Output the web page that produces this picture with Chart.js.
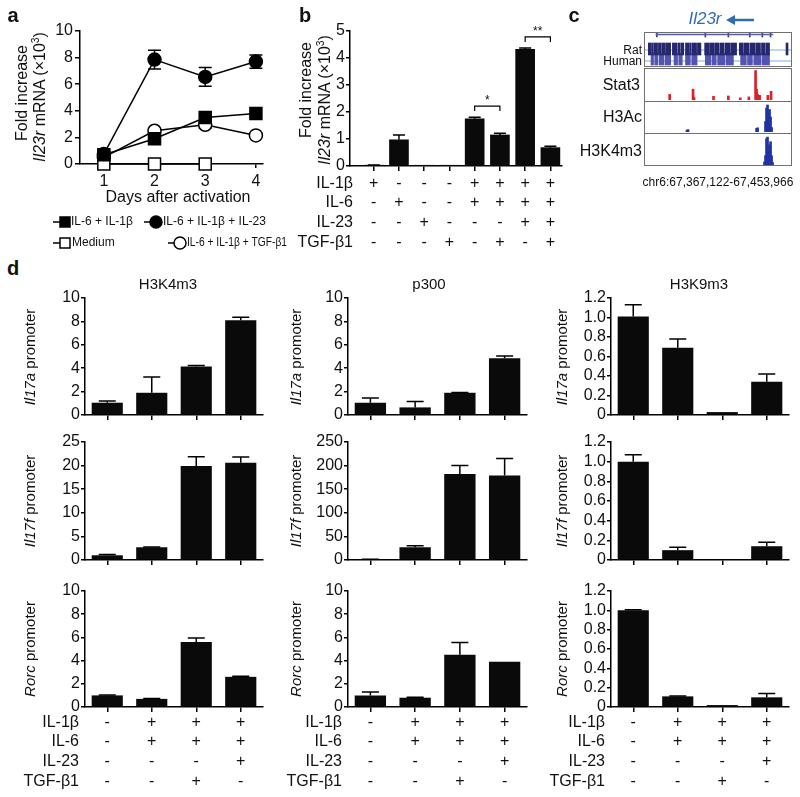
<!DOCTYPE html>
<html>
<head>
<meta charset="utf-8">
<title>Il23r figure</title>
<script src="https://cdn.jsdelivr.net/npm/chart.js@4.4.1/dist/chart.umd.min.js"></script>
<style>
  body { margin: 0; background: #fff; }
  #fig { position: relative; width: 800px; height: 797px; overflow: hidden; font-family: 'Liberation Sans', Arial, sans-serif; color: #111; }
  #fig canvas { position: absolute; }
  .t { position: absolute; white-space: nowrap; line-height: 1; }
  .box { position: absolute; border: 1px solid #707070; box-sizing: border-box; }
  sup { font-size: 0.65em; line-height: 0; vertical-align: 0.55em; }
</style>
</head>
<body>
<div id="fig"></div>
<script>
// ---------- data ----------
// panel a
var days = [1, 2, 3, 4];
var aIL6IL1b = [0.7, 1.9, 3.5, 3.8];
var aIL23 = [0.75, 7.85, 6.55, 7.7];
var aIL23Err = [0, 0.7, 0.7, 0.5];
var aMedium = [0, 0, 0, null];
var aTGFb = [0.5, 2.5, 2.95, 2.15];
var aTGFbErr = [0, 0.12, 0.25, 0];

// panel b
var bPos = [1, 2, 3, 4, 5, 6, 7, 8];
var bValues = [0.03, 0.97, 0.01, 0.01, 1.75, 1.15, 4.32, 0.68];
var bErrors = [0.01, 0.18, 0, 0, 0.06, 0.06, 0.05, 0.05];
var bSig = [[5, 6, 2.22, '*'], [7, 8, 4.78, '**']];

var condLabels = ['IL-1β', 'IL-6', 'IL-23', 'TGF-β1'];
var bConds = [
  ['+', '-', '-', '-', '+', '+', '+', '+'],
  ['-', '+', '-', '-', '+', '+', '+', '+'],
  ['-', '-', '+', '-', '-', '-', '+', '+'],
  ['-', '-', '-', '+', '-', '+', '-', '+']
];

// panel c (genome browser, chr6)
var chrStart = 67367122, chrEnd = 67453966;
var geneSpan = [67373590, 67443170];
var exonPos = [67374180, 67403000, 67416710, 67429450, 67436900, 67441800];
var ratBlocks = [[67369100, 67370600], [67371000, 67371900], [67372300, 67374600], [67375100, 67376800],
  [67377200, 67379300], [67379800, 67382400], [67383400, 67386000], [67386600, 67388100], [67388600, 67390200],
  [67391200, 67393100], [67393600, 67394500], [67395000, 67397800], [67398300, 67400400], [67402600, 67405000],
  [67405500, 67408000], [67408500, 67411000], [67411600, 67414200], [67414800, 67417900], [67418400, 67421600],
  [67423200, 67425600], [67426100, 67429000], [67429600, 67432500], [67433000, 67435800], [67436400, 67438600],
  [67439100, 67441200], [67451000, 67452200]];
var humanBlocks = [[67370700, 67372200], [67372900, 67374800], [67375600, 67378300], [67379000, 67382400],
  [67384400, 67386500], [67387200, 67389300], [67391200, 67394100], [67394900, 67398100], [67403000, 67406200],
  [67406900, 67409500], [67410300, 67414600], [67415300, 67419700], [67424000, 67427400], [67428100, 67431000],
  [67431800, 67436000], [67436700, 67441200]];
var stat3Pos = [67381800, 67395700, 67396300, 67407900, 67416700, 67423800, 67428900, 67432900, 67433500,
  67434100, 67434700, 67435300, 67440200, 67442100];
var stat3Val = [0.18, 0.35, 0.08, 0.12, 0.13, 0.07, 0.1, 0.95, 0.35, 0.18, 0.12, 0.15, 0.15, 0.28];
var h3acPos = [67392100, 67392700, 67433500, 67434100, 67438800, 67439400, 67440000, 67440600, 67441200,
  67441800, 67442400];
var h3acVal = [0.06, 0.08, 0.12, 0.14, 0.35, 0.8, 0.9, 0.6, 0.75, 0.5, 0.15];
var k4Pos = [67438200, 67438800, 67439400, 67440000, 67440600, 67441200, 67441800, 67442400, 67443000];
var k4Val = [0.1, 0.3, 0.85, 0.9, 0.45, 0.65, 0.75, 0.3, 0.08];

// panel d
var dGroups = ['Medium', 'IL-1β + IL-6', 'IL-1β + IL-6 + TGF-β1', 'IL-1β + IL-6 + IL-23'];
var dConds = [
  ['-', '+', '+', '+'],
  ['-', '+', '+', '+'],
  ['-', '-', '-', '+'],
  ['-', '-', '+', '-']
];
var k4Il17a = [1.05, 1.9, 4.15, 8.1],   k4Il17aErr = [0.15, 1.35, 0.08, 0.25];
var k4Il17f = [1.0, 2.7, 19.9, 20.6],   k4Il17fErr = [0.15, 0.05, 2.0, 1.2];
var k4Rorc = [1.0, 0.7, 5.6, 2.6],      k4RorcErr = [0.03, 0.03, 0.35, 0.05];
var p3Il17a = [1.05, 0.65, 1.9, 4.85],  p3Il17aErr = [0.4, 0.5, 0.03, 0.2];
var p3Il17f = [1.0, 27, 182, 179],      p3Il17fErr = [0.5, 3, 18, 36];
var p3Rorc = [1.0, 0.8, 4.5, 3.9],      p3RorcErr = [0.3, 0.05, 1.05, 0];
var k9Il17a = [1.01, 0.69, 0.03, 0.34], k9Il17aErr = [0.12, 0.09, 0, 0.08];
var k9Il17f = [1.0, 0.1, 0.005, 0.14],  k9Il17fErr = [0.07, 0.03, 0, 0.04];
var k9Rorc = [1.0, 0.11, 0.02, 0.1],    k9RorcErr = [0.005, 0.005, 0, 0.04];

// ---------- helpers ----------
var FONT = "'Liberation Sans', Arial, sans-serif";
Chart.defaults.font.family = FONT;
Chart.defaults.color = '#111';
var fig = document.getElementById('fig');

function addCanvas(x, y, w, h) {
  var c = document.createElement('canvas');
  c.width = w; c.height = h;
  c.style.left = x + 'px'; c.style.top = y + 'px';
  c.style.width = w + 'px'; c.style.height = h + 'px';
  fig.appendChild(c);
  return c;
}

function txt(html, x, y, o) {
  o = o || {};
  var d = document.createElement('div');
  d.className = 't';
  d.innerHTML = html;
  d.style.left = x + 'px';
  d.style.top = y + 'px';
  d.style.fontSize = (o.size || 16) + 'px';
  if (o.bold) d.style.fontWeight = 'bold';
  if (o.color) d.style.color = o.color;
  var tx = o.align === 'r' ? '-100%' : (o.align === 'l' ? '0' : '-50%');
  d.style.transform = 'translate(' + tx + ',-50%)' + (o.rot ? ' rotate(-90deg)' : '');
  fig.appendChild(d);
}

function val(d) { return (d !== null && typeof d === 'object') ? d.y : d; }

function errorBars(hook, both, capW) {
  var p = { id: 'errorBars' };
  p[hook] = function (chart) {
    var ctx = chart.ctx, ys = chart.scales.y;
    chart.data.datasets.forEach(function (ds, di) {
      if (!ds.errors) return;
      var meta = chart.getDatasetMeta(di);
      ctx.save();
      ctx.strokeStyle = '#000';
      ctx.lineWidth = 1.5;
      meta.data.forEach(function (el, i) {
        var e = ds.errors[i];
        if (!e) return;
        var v = val(ds.data[i]);
        var yt = ys.getPixelForValue(v + e);
        var yb = both ? ys.getPixelForValue(v - e) : ys.getPixelForValue(v);
        ctx.beginPath();
        ctx.moveTo(el.x, yb); ctx.lineTo(el.x, yt);
        ctx.moveTo(el.x - capW / 2, yt); ctx.lineTo(el.x + capW / 2, yt);
        if (both) { ctx.moveTo(el.x - capW / 2, yb); ctx.lineTo(el.x + capW / 2, yb); }
        ctx.stroke();
      });
      ctx.restore();
    });
  };
  return p;
}

function condTable(xVals, conds, offsets, labelDx) {
  return {
    id: 'condTable',
    afterDraw: function (chart) {
      var ctx = chart.ctx, xs = chart.scales.x, area = chart.chartArea;
      ctx.save();
      ctx.fillStyle = '#111';
      ctx.font = '16px ' + FONT;
      ctx.textBaseline = 'middle';
      condLabels.forEach(function (lab, r) {
        var y = area.bottom + offsets[r];
        ctx.textAlign = 'right';
        ctx.fillText(lab, area.left + labelDx, y);
        ctx.textAlign = 'center';
        conds[r].forEach(function (s, i) {
          ctx.fillText(s, xs.getPixelForValue(xVals[i]), y);
        });
      });
      ctx.restore();
    }
  };
}

function axisGrid(len) {
  return { drawOnChartArea: false, drawTicks: true, tickLength: len, color: '#000', lineWidth: 1.5, offset: false };
}
var axisBorder = { display: true, color: '#000', width: 1.5 };

// ---------- panel d ----------
function promoterChart(axisX, right, top, bottom, values, errors, max, step, decimals, withTable) {
  var padL = 64, padT = 12, padR = 8, xH = 8;
  var padB = withTable ? 82 : 4;
  var cv = addCanvas(axisX - padL, top - padT, right - axisX + padL + padR, bottom - top + padT + xH + padB);
  var plugins = [errorBars('afterDatasetsDraw', false, 17)];
  if (withTable) plugins.push(condTable([0, 1, 2, 3], dConds, [16, 35, 55, 75], -6));
  return new Chart(cv, {
    type: 'bar',
    data: {
      labels: dGroups,
      datasets: [{ data: values, errors: errors, backgroundColor: '#0a0a0a', barPercentage: 0.7, categoryPercentage: 1 }]
    },
    options: {
      responsive: false, animation: false, events: [],
      layout: { padding: { left: 0, top: padT, right: padR, bottom: padB } },
      plugins: { legend: { display: false }, tooltip: { enabled: false } },
      scales: {
        x: {
          offset: true, grid: axisGrid(5), border: axisBorder, ticks: { display: false },
          afterFit: function (s) { s.height = xH; }
        },
        y: {
          min: 0, max: max, grid: axisGrid(4), border: axisBorder,
          ticks: {
            stepSize: step, padding: 1, font: { size: 16 }, color: '#111', autoSkip: false,
            callback: function (v) { return v === 0 ? '0' : v.toFixed(decimals); }
          },
          afterFit: function (s) { s.width = padL; }
        }
      }
    },
    plugins: plugins
  });
}

var colX = [[85, 263], [348, 527], [611, 789]];
var rowY = [[298, 415], [442, 560], [591, 707]];

promoterChart(colX[0][0], colX[0][1], rowY[0][0], rowY[0][1], k4Il17a, k4Il17aErr, 10, 2, 0, false);
promoterChart(colX[0][0], colX[0][1], rowY[1][0], rowY[1][1], k4Il17f, k4Il17fErr, 25, 5, 0, false);
promoterChart(colX[0][0], colX[0][1], rowY[2][0], rowY[2][1], k4Rorc, k4RorcErr, 10, 2, 0, true);
promoterChart(colX[1][0], colX[1][1], rowY[0][0], rowY[0][1], p3Il17a, p3Il17aErr, 10, 2, 0, false);
promoterChart(colX[1][0], colX[1][1], rowY[1][0], rowY[1][1], p3Il17f, p3Il17fErr, 250, 50, 0, false);
promoterChart(colX[1][0], colX[1][1], rowY[2][0], rowY[2][1], p3Rorc, p3RorcErr, 10, 2, 0, true);
promoterChart(colX[2][0], colX[2][1], rowY[0][0], rowY[0][1], k9Il17a, k9Il17aErr, 1.2, 0.2, 1, false);
promoterChart(colX[2][0], colX[2][1], rowY[1][0], rowY[1][1], k9Il17f, k9Il17fErr, 1.2, 0.2, 1, false);
promoterChart(colX[2][0], colX[2][1], rowY[2][0], rowY[2][1], k9Rorc, k9RorcErr, 1.2, 0.2, 1, true);

// ---------- panel a ----------
function pts(arr) {
  var out = [];
  days.forEach(function (d, i) { if (arr[i] !== null) out.push({ x: d, y: arr[i] }); });
  return out;
}

function legendPlugin(items) {
  return {
    id: 'aLegend',
    afterDraw: function (chart) {
      var ctx = chart.ctx;
      items.forEach(function (it) {
        var ds = chart.data.datasets[it.ds];
        ctx.save();
        ctx.strokeStyle = '#000';
        ctx.lineWidth = 1.5;
        ctx.beginPath(); ctx.moveTo(it.x - 12, it.y); ctx.lineTo(it.x, it.y); ctx.stroke();
        ctx.fillStyle = ds.pointBackgroundColor;
        ctx.beginPath();
        if (ds.pointStyle === 'rect') ctx.rect(it.x - 5, it.y - 5, 10, 10);
        else ctx.arc(it.x, it.y, 6, 0, Math.PI * 2);
        ctx.fill(); ctx.stroke();
        ctx.fillStyle = '#111';
        ctx.font = '12px ' + FONT;
        ctx.textAlign = 'left';
        ctx.textBaseline = 'middle';
        ctx.fillText(ds.label, it.tx, it.y, it.maxW);
        ctx.restore();
      });
    }
  };
}

(function () {
  var axisX = 80, right = 263, top = 31, bottom = 164;
  var cx = axisX - 64, cy = top - 12;
  var cv = addCanvas(cx, cy, 290 - cx, 256 - cy);
  var common = { borderColor: '#000', borderWidth: 1.5, pointBorderColor: '#000', pointBorderWidth: 1.5, clip: false, tension: 0 };
  new Chart(cv, {
    type: 'line',
    data: {
      datasets: [
        Object.assign({ label: 'IL-6 + IL-1β', data: pts(aIL6IL1b), pointStyle: 'rect', pointRadius: 8.5, pointBackgroundColor: '#000' }, common),
        Object.assign({ label: 'IL-6 + IL-1β + IL-23', data: pts(aIL23), errors: aIL23Err, pointStyle: 'circle', pointRadius: 6.5, pointBackgroundColor: '#000' }, common),
        Object.assign({ label: 'Medium', data: pts(aMedium), pointStyle: 'rect', pointRadius: 8.5, pointBackgroundColor: '#fff' }, common),
        Object.assign({ label: 'IL-6 + IL-1β + TGF-β1', data: pts(aTGFb), errors: aTGFbErr, pointStyle: 'circle', pointRadius: 6.5, pointBackgroundColor: '#fff' }, common)
      ]
    },
    options: {
      responsive: false, animation: false, events: [],
      layout: { padding: { left: 0, top: 12, right: 290 - right, bottom: 256 - bottom - 30 } },
      plugins: { legend: { display: false }, tooltip: { enabled: false } },
      scales: {
        x: {
          type: 'linear', min: 0.53, max: 4.14, grid: axisGrid(4), border: axisBorder,
          ticks: { padding: 4, font: { size: 16 }, color: '#111' },
          afterBuildTicks: function (s) { s.ticks = days.map(function (d) { return { value: d }; }); },
          afterFit: function (s) { s.height = 30; }
        },
        y: {
          min: 0, max: 10, grid: axisGrid(5), border: axisBorder,
          ticks: { stepSize: 2, padding: 2, font: { size: 16 }, color: '#111', autoSkip: false },
          afterFit: function (s) { s.width = 64; }
        }
      }
    },
    plugins: [
      errorBars('beforeDatasetsDraw', true, 13),
      legendPlugin([
        { ds: 0, x: 65 - cx, y: 222 - cy, tx: 71 - cx, maxW: 70 },
        { ds: 1, x: 156 - cx, y: 222 - cy, tx: 163 - cx, maxW: 110 },
        { ds: 2, x: 65 - cx, y: 243 - cy, tx: 72 - cx, maxW: 70 },
        { ds: 3, x: 180 - cx, y: 243 - cy, tx: 187 - cx, maxW: 100 }
      ])
    ]
  });
})();

// ---------- panel b ----------
function sigPlugin(pairs) {
  return {
    id: 'sig',
    afterDatasetsDraw: function (chart) {
      var ctx = chart.ctx, xs = chart.scales.x, ys = chart.scales.y;
      ctx.save();
      ctx.strokeStyle = '#000'; ctx.lineWidth = 1.2; ctx.fillStyle = '#111';
      ctx.font = '12px ' + FONT; ctx.textAlign = 'center'; ctx.textBaseline = 'alphabetic';
      pairs.forEach(function (p) {
        var x1 = xs.getPixelForValue(p[0]), x2 = xs.getPixelForValue(p[1]), y = ys.getPixelForValue(p[2]);
        ctx.beginPath();
        ctx.moveTo(x1, y + 5); ctx.lineTo(x1, y); ctx.lineTo(x2, y); ctx.lineTo(x2, y + 5);
        ctx.stroke();
        ctx.fillText(p[3], (x1 + x2) / 2, y - 2);
      });
      ctx.restore();
    }
  };
}

(function () {
  var axisX = 350, right = 562, top = 31, bottom = 166;
  var cx = axisX - 64, cy = top - 12;
  var cv = addCanvas(cx, cy, 570 - cx, 256 - cy);
  new Chart(cv, {
    type: 'bar',
    data: {
      datasets: [{
        data: bPos.map(function (p, i) { return { x: p, y: bValues[i] }; }),
        errors: bErrors, backgroundColor: '#0a0a0a', barThickness: 19, grouped: false
      }]
    },
    options: {
      responsive: false, animation: false, events: [],
      layout: { padding: { left: 0, top: 12, right: 570 - right, bottom: 256 - bottom - 8 } },
      plugins: { legend: { display: false }, tooltip: { enabled: false } },
      scales: {
        x: {
          type: 'linear', offset: false, min: 0.06, max: 8.46, grid: axisGrid(5), border: axisBorder,
          ticks: { display: false },
          afterBuildTicks: function (s) { s.ticks = bPos.map(function (p) { return { value: p }; }); },
          afterFit: function (s) { s.height = 8; }
        },
        y: {
          min: 0, max: 5, grid: axisGrid(4), border: axisBorder,
          ticks: { stepSize: 1, padding: 1, font: { size: 16 }, color: '#111', autoSkip: false },
          afterFit: function (s) { s.width = 64; }
        }
      }
    },
    plugins: [errorBars('afterDatasetsDraw', false, 12), sigPlugin(bSig), condTable(bPos, bConds, [18, 37, 57, 77], 3)]
  });
})();

// ---------- panel c ----------
function trackChart(x, y, w, h, datasets, yOpts, index) {
  var cv = addCanvas(x, y, w, h);
  return new Chart(cv, {
    type: 'bar',
    data: { datasets: datasets },
    options: {
      responsive: false, animation: false, events: [], indexAxis: index || 'x',
      layout: { padding: 0 },
      plugins: { legend: { display: false }, tooltip: { enabled: false } },
      scales: {
        x: { type: 'linear', min: chrStart, max: chrEnd, display: false, offset: false },
        y: Object.assign({ type: 'linear', display: false, offset: false }, yOpts)
      }
    }
  });
}

function spikes(pos, vals, color) {
  return [{
    data: pos.map(function (p, i) { return { x: p, y: vals[i] }; }),
    backgroundColor: color, barThickness: 2, grouped: false
  }];
}

// conservation + gene model (horizontal floating bars, y in px-like units from box top)
trackChart(645, 33, 146, 33, [
  { data: [{ x: geneSpan, y: 1.5 }], backgroundColor: '#5a5aa8', barThickness: 1, grouped: false, order: 0 },
  { data: exonPos.map(function (p) { return { x: [p - 300, p + 300], y: 1.5 }; }), backgroundColor: '#3a3a90', barThickness: 5, grouped: false, order: 0 },
  { data: ratBlocks.map(function (b) { return { x: b, y: 16 }; }), backgroundColor: '#26286f', barThickness: 12, grouped: false, order: 1 },
  { data: humanBlocks.map(function (b) { return { x: b, y: 26 }; }), backgroundColor: '#5553b0', barThickness: 12, grouped: false, order: 2 },
  { data: [{ x: [chrStart, chrEnd], y: 17 }, { x: [chrStart, chrEnd], y: 28 }], backgroundColor: '#a9c9ee', barThickness: 1, grouped: false, order: 3 }
], { min: 0, max: 33, reverse: true }, 'y');

trackChart(645, 69, 146, 31, spikes(stat3Pos, stat3Val, '#dd2027'), { min: 0, max: 1 });
trackChart(645, 102, 146, 30, spikes(h3acPos, h3acVal, '#2233a2'), { min: 0, max: 1 });
trackChart(645, 134, 146, 31, spikes(k4Pos, k4Val, '#2233a2'), { min: 0, max: 1 });

['box1', 'box2'].forEach(function (id, i) {
  var d = document.createElement('div');
  d.className = 'box';
  d.style.left = '644px'; d.style.width = '148px';
  d.style.top = (i ? 68 : 32) + 'px';
  d.style.height = (i ? 98 : 35) + 'px';
  fig.appendChild(d);
});
[101, 133].forEach(function (yy) {
  var d = document.createElement('div');
  d.style.cssText = 'position:absolute;left:644px;width:148px;height:1px;background:#707070;top:' + yy + 'px';
  fig.appendChild(d);
});

// ---------- text ----------
txt('a', 13, 15, { size: 20, bold: true });
txt('b', 305, 15, { size: 20, bold: true });
txt('c', 574, 15, { size: 20, bold: true });
txt('d', 13, 268, { size: 20, bold: true });

txt('Fold increase', 22, 93, { size: 16, rot: true });
txt('<i>Il23r</i> mRNA (×10<sup>3</sup>)', 40, 97, { size: 16, rot: true });
txt('Days after activation', 178, 197, { size: 16 });

txt('Fold increase', 306, 90, { size: 16, rot: true });
txt('<i>Il23r</i> mRNA (×10<sup>3</sup>)', 325, 100, { size: 16, rot: true });

txt('<i>Il23r</i>', 705, 18, { size: 17, color: '#2f6cb3' });
var arrow = document.createElementNS('http://www.w3.org/2000/svg', 'svg');
arrow.setAttribute('width', '30'); arrow.setAttribute('height', '12');
arrow.style.cssText = 'position:absolute;left:726px;top:14px';
arrow.innerHTML = '<line x1="7" y1="6" x2="28" y2="6" stroke="#2f6cb3" stroke-width="2.5"/><polygon points="0,6 9,1 9,11" fill="#2f6cb3"/>';
fig.appendChild(arrow);
txt('Rat', 642, 50, { size: 12, align: 'r' });
txt('Human', 642, 61, { size: 12, align: 'r' });
txt('Stat3', 640, 85, { size: 16, align: 'r' });
txt('H3Ac', 642, 117, { size: 16, align: 'r' });
txt('H3K4m3', 642, 151, { size: 16, align: 'r' });
txt('chr6:67,367,122-67,453,966', 718, 182, { size: 12 });

txt('H3K4m3', 168, 283, { size: 15 });
txt('p300', 429, 283, { size: 15 });
txt('H3K9m3', 699, 283, { size: 15 });

var yTitles = ['<i>Il17a</i> promoter', '<i>Il17f</i> promoter', '<i>Rorc</i> promoter'];
var titleDx = [56, 53, 50];
colX.forEach(function (c, ci) {
  rowY.forEach(function (r, ri) {
    txt(yTitles[ri], c[0] - titleDx[ci], (r[0] + r[1]) / 2, { size: 15, rot: true });
  });
});
</script>
</body>
</html>
